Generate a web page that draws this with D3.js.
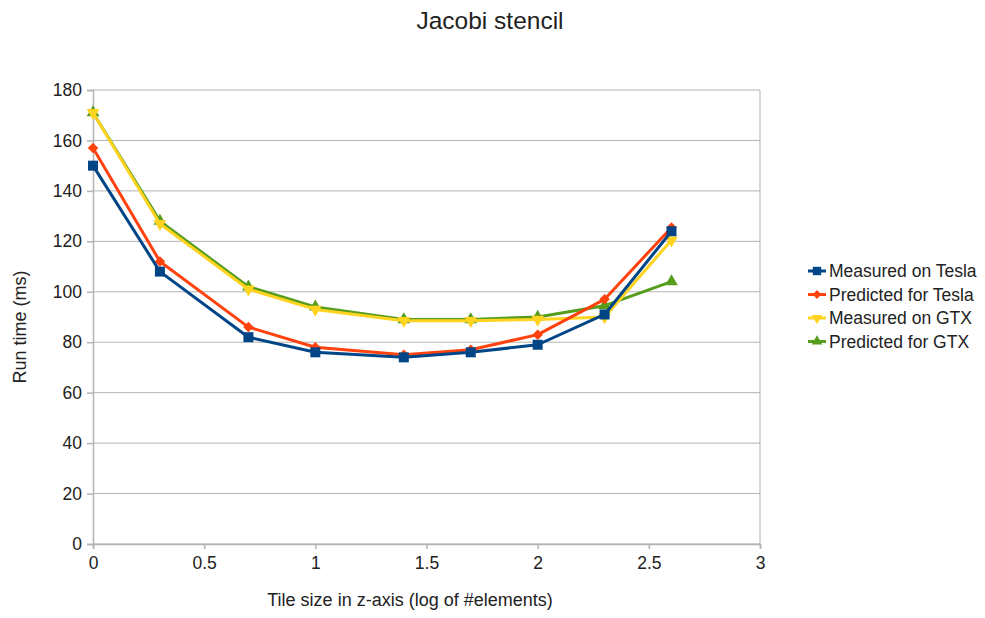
<!DOCTYPE html>
<html>
<head>
<meta charset="utf-8">
<script src="https://cdn.jsdelivr.net/npm/d3@7"></script>
<style>
  body { margin: 0; background: #fff; }
  text { font-family: "Liberation Sans", Arial, sans-serif; fill: #222; }
</style>
</head>
<body>
<script>
// tile size in z-axis, log10 of #elements (1,2,5,10,25,50,100,200,400)
var tileSizes = [0, 0.301, 0.699, 1, 1.398, 1.699, 2, 2.301, 2.602];

var measuredTesla  = [150, 108, 82, 76, 74, 76, 79, 91, 124];
var predictedTesla = [157, 112, 86, 78, 75, 77, 83, 97, 125.5];
var measuredGTX    = [171, 127, 101, 93, 88.5, 88.5, 89, 90, 120.5];
var predictedGTX   = [171, 128, 102, 94, 89, 89, 90, 94.5, 104];

var seriesNames = ["Measured on Tesla", "Predicted for Tesla", "Measured on GTX", "Predicted for GTX"];
var xTicks = [0, 0.5, 1, 1.5, 2, 2.5, 3];
var yTicks = [0, 20, 40, 60, 80, 100, 120, 140, 160, 180];

var width = 985, height = 618;
var margin = {left: 93, right: 225, top: 90, bottom: 74};

var series = [
  {name: seriesNames[0], values: measuredTesla,  color: "#004586", symbol: d3.symbolSquare,   size: 100, rot: 0},
  {name: seriesNames[1], values: predictedTesla, color: "#ff420e", symbol: d3.symbolDiamond2, size: 70,  rot: 0},
  {name: seriesNames[2], values: measuredGTX,    color: "#ffd320", symbol: d3.symbolTriangle, size: 70,  rot: 180},
  {name: seriesNames[3], values: predictedGTX,   color: "#579d1c", symbol: d3.symbolTriangle, size: 70,  rot: 0}
];

var svg = d3.select("body").append("svg")
    .attr("width", width)
    .attr("height", height);

var x = d3.scaleLinear().domain([0, 3]).range([margin.left, width - margin.right]);
var y = d3.scaleLinear().domain([0, 180]).range([height - margin.bottom, margin.top]);

// gridlines
svg.append("g").selectAll("line")
    .data(yTicks)
    .enter().append("line")
    .attr("x1", x(0)).attr("x2", x(3))
    .attr("y1", function(d) { return y(d); })
    .attr("y2", function(d) { return y(d); })
    .attr("stroke", "#b3b3b3").attr("stroke-width", 1);

svg.append("line")
    .attr("x1", x(3)).attr("x2", x(3))
    .attr("y1", y(0)).attr("y2", y(180))
    .attr("stroke", "#b3b3b3");

// axes
var yAxis = svg.append("g")
    .attr("transform", "translate(" + x(0) + ",0)")
    .call(d3.axisLeft(y).tickValues(yTicks).tickSize(6).tickPadding(5));

var xAxis = svg.append("g")
    .attr("transform", "translate(0," + y(0) + ")")
    .call(d3.axisBottom(x).tickValues(xTicks).tickSize(5).tickPadding(8)
      .tickFormat(function(d) { return d3.format("~g")(d); }));

[xAxis, yAxis].forEach(function(a) {
  a.select(".domain").attr("stroke", "#b3b3b3").attr("stroke-width", 1.5);
  a.selectAll(".tick line").attr("stroke", "#b3b3b3").attr("stroke-width", 1.5);
  a.selectAll(".tick text").style("font-size", "17.5px").style("font-family", "Liberation Sans, Arial, sans-serif").attr("fill", "#222");
});

// lines and markers, drawn last series first so blue sits on top
var line = d3.line()
    .x(function(d, i) { return x(tileSizes[i]); })
    .y(function(d) { return y(d); });

series.slice().reverse().forEach(function(s) {
  var g = svg.append("g");
  g.append("path")
      .datum(s.values)
      .attr("d", line)
      .attr("fill", "none")
      .attr("stroke", s.color)
      .attr("stroke-width", 3)
      .attr("stroke-linejoin", "round");
  g.selectAll("path.marker")
      .data(s.values)
      .enter().append("path")
      .attr("class", "marker")
      .attr("d", d3.symbol().type(s.symbol).size(s.size))
      .attr("transform", function(d, i) {
        return "translate(" + x(tileSizes[i]) + "," + y(d) + ") rotate(" + s.rot + ")";
      })
      .attr("fill", s.color);
});

// title
svg.append("text")
    .attr("x", 490).attr("y", 29)
    .attr("text-anchor", "middle")
    .style("font-size", "24.5px")
    .text("Jacobi stencil");

// axis titles
svg.append("text")
    .attr("x", 410).attr("y", 606)
    .attr("text-anchor", "middle")
    .style("font-size", "18px")
    .text("Tile size in z-axis (log of #elements)");

svg.append("text")
    .attr("transform", "translate(26,327) rotate(-90)")
    .attr("text-anchor", "middle")
    .style("font-size", "18px")
    .text("Run time (ms)");

// legend
var legend = svg.append("g").attr("transform", "translate(808,271)");
var items = legend.selectAll("g")
    .data(series)
    .enter().append("g")
    .attr("transform", function(d, i) { return "translate(0," + (i * 23.5) + ")"; });

items.append("line")
    .attr("x1", 0).attr("x2", 18)
    .attr("stroke", function(d) { return d.color; })
    .attr("stroke-width", 3);

items.append("path")
    .attr("d", function(d) { return d3.symbol().type(d.symbol).size(d.size * 0.7)(); })
    .attr("transform", function(d) { return "translate(9,0) rotate(" + d.rot + ")"; })
    .attr("fill", function(d) { return d.color; });

items.append("text")
    .attr("x", 21).attr("y", 6)
    .style("font-size", "17.5px")
    .text(function(d) { return d.name; });
</script>
</body>
</html>
